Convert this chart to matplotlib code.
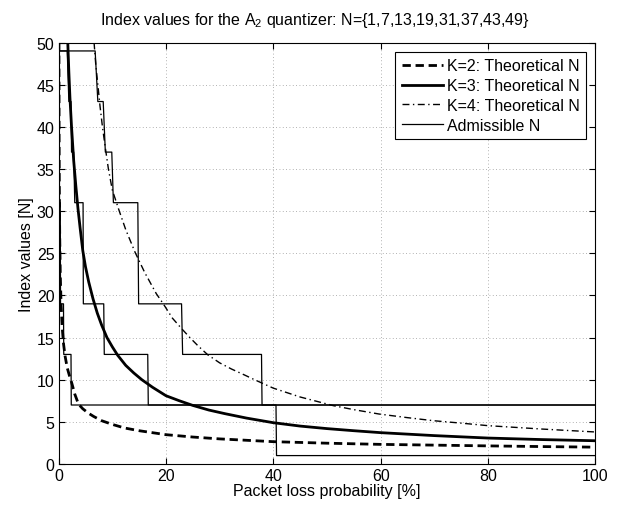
import numpy as np
import matplotlib
matplotlib.use('Agg')
import matplotlib.pyplot as plt

plt.rcParams['font.family'] = ['Liberation Sans', 'DejaVu Sans']
plt.rcParams['mathtext.fontset'] = 'custom'
plt.rcParams['mathtext.rm'] = 'Liberation Sans'
plt.rcParams['mathtext.it'] = 'Liberation Sans:italic'

# Theoretical N curves (x = packet loss %, y = N)
k2_x = [0.05, 0.08, 0.12, 0.2, 0.3, 0.45, 0.65, 0.9, 1.2, 1.6, 2.0, 2.4, 3.0, 3.7, 4.5,
        5.5, 6.5, 8.0, 10, 12.3, 15, 20, 25, 30, 40, 50, 60, 70, 80, 90, 100]
k2_y = [50, 40, 33, 27, 22.5, 19, 16.3, 14.3, 12.8, 11.4, 10.5, 9.7, 8.3, 7.1, 6.55,
        6.05, 5.65, 5.14, 4.7, 4.27, 3.95, 3.48, 3.2, 2.98, 2.65, 2.47, 2.33, 2.24, 2.15, 2.07, 2.0]

k3_x = [1.7, 1.9, 2.1, 2.4, 2.8, 3.2, 3.6, 4.0, 4.5, 5.0, 5.6, 6.4, 7.2, 8.0, 9.0, 10.0,
        11.0, 12.5, 14.0, 15.5, 17.5, 20, 22.5, 25, 28, 31, 35, 40, 45, 50, 55, 60, 70,
        80, 90, 100]
k3_y = [50, 46.5, 43.5, 40, 36, 33, 30.3, 28, 25.3, 23.4, 21.6, 19.6, 17.9, 16.5, 15.0, 13.9,
        12.9, 11.7, 10.8, 10.0, 9.1, 8.1, 7.5, 6.95, 6.4, 5.97, 5.45, 4.9, 4.5, 4.2, 3.95, 3.72, 3.37,
        3.08, 2.9, 2.76]

k4_x = [6.6, 6.9, 7.3, 7.7, 8.16, 8.7, 9.27, 10.0, 11.3, 12.5, 14.25, 16.05, 18.2, 19.5,
        21.2, 23, 24.45, 26, 27.8, 30, 32.2, 34.5, 36.5, 40, 45, 51.2, 55, 59.7, 65, 69.8,
        75, 80, 90, 100]
k4_y = [50, 47.5, 45, 42.5, 40, 37.5, 35, 32.5, 30, 27.8, 25.1, 22.7, 20.2, 19,
        17.3, 16, 15, 14, 12.95, 12, 11.27, 10.6, 10, 9.0, 7.95, 6.92, 6.45, 5.93, 5.5, 5.14,
        4.85, 4.55, 4.15, 3.8]

# Admissible N staircases
adm2_x = [0, 0.1, 0.15, 0.3, 0.35, 0.9, 0.95, 2.3, 2.35, 100]
adm2_y = [49, 49, 31, 31, 19, 19, 13, 13, 7, 7]

adm3_x = [0, 1.6, 1.9, 2.3, 2.4, 2.8, 3.0, 4.55, 4.6, 8.4, 8.5, 16.6, 16.7, 40.5, 40.6, 100]
adm3_y = [49, 49, 43, 43, 37, 37, 31, 31, 19, 19, 13, 13, 7, 7, 1, 1]

adm4_x = [0, 6.8, 7.3, 8.3, 8.7, 9.9, 10.2, 14.75, 14.9, 22.9, 23.1, 37.8, 37.9, 100]
adm4_y = [49, 49, 43, 43, 37, 37, 31, 31, 19, 19, 13, 13, 7, 7]

fig = plt.figure(figsize=(6.24, 5.06), dpi=100)
ax = fig.add_axes([0.094, 0.081, 0.860, 0.833])

l2, = ax.plot(k2_x, k2_y, color='black', lw=2.0, dashes=(3.0, 1.7),
              label='K=2: Theoretical N')
l3, = ax.plot(k3_x, k3_y, color='black', lw=2.0, label='K=3: Theoretical N')
l4, = ax.plot(k4_x, k4_y, color='black', lw=1.0, dashes=(5, 2.5, 1, 2.5),
              label='K=4: Theoretical N')
la, = ax.plot(adm2_x, adm2_y, color='black', lw=0.9, label='Admissible N')
ax.plot(adm3_x, adm3_y, color='black', lw=0.9)
ax.plot(adm4_x, adm4_y, color='black', lw=0.9)

ax.set_xlim(0, 100)
ax.set_ylim(0, 50)
ax.set_xticks(np.arange(0, 101, 20))
ax.set_yticks(np.arange(0, 51, 5))
ax.tick_params(direction='in', length=4, labelsize=11.5, top=True, right=True, pad=3)
ax.grid(True, color='#999999', linestyle=(0, (1, 3)), lw=0.6)

ax.set_xlabel('Packet loss probability [%]', fontsize=11.5, labelpad=0)
ax.set_ylabel('Index values [N]', fontsize=11.5, labelpad=2)
ax.set_title(r'Index values for the A$_2$ quantizer: N={1,7,13,19,31,37,43,49}',
             fontsize=11.5, pad=13, x=0.478)

leg = ax.legend(handles=[l2, l3, l4, la], loc='upper right', fontsize=11.5,
                fancybox=False, edgecolor='black', framealpha=1,
                handlelength=2.6, handletextpad=0.2, borderpad=0.4,
                labelspacing=0.3, borderaxespad=0.6)
leg.get_frame().set_linewidth(0.8)

fig.savefig('out.png', dpi=100)
